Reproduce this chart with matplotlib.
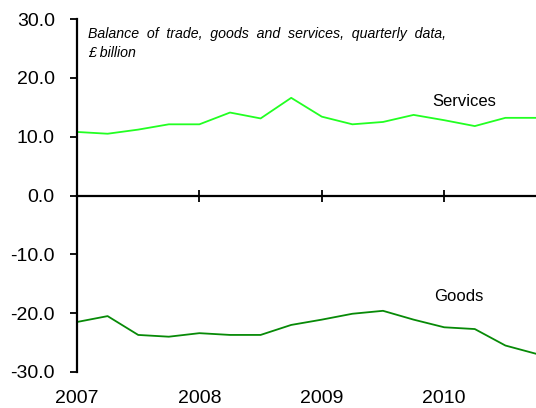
import matplotlib
matplotlib.use("Agg")
import matplotlib.pyplot as plt
import matplotlib.transforms as mtransforms

plt.rcParams['font.family'] = ['Liberation Sans', 'DejaVu Sans']

# quarterly positions, 2007 Q1 .. 2010 Q4
quarters = [2007 + i / 4 for i in range(16)]
services = [10.8, 10.5, 11.2, 12.1, 12.1, 14.1, 13.1, 16.6,
            13.4, 12.1, 12.5, 13.7, 12.8, 11.8, 13.2, 13.2]
goods = [-21.5, -20.5, -23.7, -24.0, -23.4, -23.7, -23.7, -22.0,
         -21.1, -20.1, -19.6, -21.1, -22.4, -22.7, -25.5, -26.9]
years = [2007, 2008, 2009, 2010]
yticks = [-30, -20, -10, 0, 10, 20, 30]

fig = plt.figure(figsize=(5.36, 4.08), dpi=100)
ax = fig.add_axes([77 / 536, 1 - 372 / 408, 1 - 77 / 536, (372 - 19) / 408])

ax.plot(quarters, services, color='#22FF22', linewidth=1.3)
ax.plot(quarters, goods, color='#078A07', linewidth=1.3)

ax.set_xlim(2007, 2010.75)
ax.set_ylim(-30, 30)

# spines: y axis on the left, x axis through zero
ax.spines['top'].set_visible(False)
ax.spines['right'].set_visible(False)
ax.spines['bottom'].set_position(('data', 0))
ax.spines['left'].set_linewidth(1.6)
ax.spines['bottom'].set_linewidth(1.6)

ax.set_yticks(yticks)
ax.set_yticklabels([f"{v:.1f}" for v in yticks], fontsize=14)
ax.tick_params(axis='y', direction='out', length=5, width=1.3, pad=11, colors='black')

ax.set_xticks(years)
ax.set_xticklabels([])
ax.tick_params(axis='x', direction='inout', length=8, width=1.3)

# year labels at the bottom of the chart
trans = mtransforms.blended_transform_factory(ax.transData, ax.transAxes)
for yr in years:
    ax.text(yr, -0.075, str(yr), transform=trans, ha='center', va='center', fontsize=14)

ax.text(2007.09, 28.6, "Balance  of  trade,  goods  and  services,  quarterly  data,\n£ billion",
        fontsize=10.2, style='italic', va='top', ha='left', linespacing=1.4)

ax.text(2009.9, 15.9, "Services", fontsize=12, va='center', ha='left')
ax.text(2009.92, -17.2, "Goods", fontsize=12, va='center', ha='left')

fig.savefig('out.png', dpi=100)
